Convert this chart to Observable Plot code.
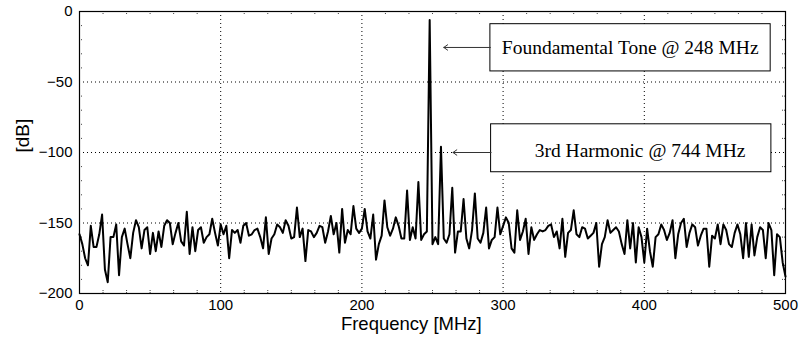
<!DOCTYPE html>
<html>
<head>
<meta charset="utf-8">
<script src="https://cdn.jsdelivr.net/npm/d3@7"></script>
<script src="https://cdn.jsdelivr.net/npm/@observablehq/plot@0.6"></script>
<style>
  html, body { margin: 0; padding: 0; background: #fff; }
  #chart { width: 799px; height: 343px; }
</style>
</head>
<body>
<div id="chart"></div>
<script>
// Frequency step between spectrum bins (MHz)
const stepMHz = 2;

// Spectrum magnitude in dB, one value per bin (0 .. 500 MHz)
const dB = [
  -158, -165, -175, -180, -152, -167, -167, -158, -144, -183,
  -192, -160, -160, -151, -187, -160, -154, -165, -175, -157,
  -148, -153, -168, -155, -153, -172, -157, -170, -156, -167,
  -152, -148, -150, -165, -157, -150, -163, -166, -142, -172,
  -153, -170, -155,
  -153, -164, -160, -158, -147, -157, -166, -151, -158, -152,
  -175, -155, -157, -155, -164, -152, -150, -159, -158, -155,
  -154, -160, -168, -146, -172, -161, -158, -151, -153, -157,
  -148, -152, -161, -160, -139, -160, -154, -177, -155, -156,
  -160,
  -157, -152, -153, -164, -156, -145, -158, -150, -171, -140,
  -164, -155, -158, -138, -154, -157, -154, -140, -156, -161,
  -144, -176, -165, -159, -134, -153, -159, -154, -146, -152,
  -161, -161, -127, -162, -153, -161, -121, -162, -158, -156,
  -6,
  -165, -160, -165, -96, -161, -164, -158, -125, -171, -156,
  -156, -133, -161, -168, -155, -129, -161, -164, -157, -139,
  -168, -162, -160, -139, -158, -152, -146, -150, -168, -171,
  -141, -162, -156, -147, -172, -153, -162, -158, -155, -156,
  -155, -152,
  -151, -160, -156, -168, -147, -174, -157, -155, -141, -158,
  -160, -153, -154, -161, -159, -157, -150, -181, -165, -160,
  -148, -157, -155, -153, -156, -165, -172, -148, -168, -150,
  -178, -153, -160, -178, -154, -170, -181, -160, -158, -151,
  -155,
  -162, -157, -148, -175, -158, -150, -147, -167, -157, -151,
  -153, -166, -159, -154, -154, -181, -159, -161, -151, -165,
  -151, -155, -165, -167, -157, -151, -158, -175, -150, -174,
  -151, -173, -160, -153, -155, -175, -150, -155, -187, -158,
  -160, -178, -188
];

// Axis ticks
const xTicks = [0, 100, 200, 300, 400, 500];
const yTicks = [0, -50, -100, -150, -200];
const xGrid = [100, 200, 300, 400];
const yGrid = [-50, -100, -150];

// Axis titles
const xTitle = "Frequency [MHz]";
const yTitle = "[dB]";

// Annotations
const annoLabels = ["Foundamental Tone @ 248 MHz", "3rd Harmonic @ 744 MHz"];
const annoBoxLeft = [291, 291.5];
const annoBoxRight = [489.5, 490];
const annoBoxTop = [-9, -80];
const annoBoxBottom = [-42.5, -114];
const annoTextX = [390, 397];
const annoTextY = [-25.5, -99];
const annoArrowY = [-25.5, -100];
const annoArrowTip = [258, 264.5];

// Build tables
const spectrum = dB.map((v, i) => ({f: i * stepMHz, db: v}));
const annos = annoLabels.map((t, i) => ({
  label: t,
  x1: annoBoxLeft[i], x2: annoBoxRight[i],
  y1: annoBoxTop[i], y2: annoBoxBottom[i],
  tx: annoTextX[i], ty: annoTextY[i],
  ay: annoArrowY[i], tip: annoArrowTip[i]
}));

// minor tick positions (6 per 100 MHz, 5 per 50 dB)
const minorX = d3.range(1, 30).map(k => k * 100 / 6).filter(v => Math.abs(v / 100 - Math.round(v / 100)) > 1e-6);
const minorY = d3.range(-19, 0).map(k => k * 10).filter(v => v % 50 !== 0);

const dotted = {stroke: "black", strokeOpacity: 1, strokeDasharray: "1,3", strokeWidth: 1};
const minorStyle = {stroke: "#444", strokeWidth: 1, strokeDasharray: "1,1"};

const chart = Plot.plot({
  width: 799,
  height: 343,
  marginLeft: 79,
  marginRight: 14,
  marginTop: 11,
  marginBottom: 50,
  style: {fontFamily: "'Liberation Sans', Arial, sans-serif", fontSize: "15px", background: "#fff", color: "#000"},
  x: {domain: [0, 500]},
  y: {domain: [-200, 0]},
  marks: [
    Plot.gridX(xGrid, dotted),
    Plot.gridY(yGrid, dotted),
    // minor ticks inside the frame on all sides
    Plot.ruleX(minorX, {x: d => d, y1: -200, y2: -197.2, ...minorStyle}),
    Plot.ruleX(minorX, {x: d => d, y1: 0, y2: -2.8, ...minorStyle}),
    Plot.ruleY(minorY, {y: d => d, x1: 0, x2: 2.8, ...minorStyle}),
    Plot.ruleY(minorY, {y: d => d, x1: 500, x2: 497.2, ...minorStyle}),
    Plot.line(spectrum, {x: "f", y: "db", stroke: "black", strokeWidth: 2}),
    Plot.rect(annos, {x1: "x1", x2: "x2", y1: "y1", y2: "y2", fill: "white", stroke: "black", strokeWidth: 1}),
    Plot.arrow(annos, {x1: "x1", y1: "ay", x2: "tip", y2: "ay", stroke: "#333", strokeWidth: 1, headLength: 7, headAngle: 70}),
    Plot.text(annos, {x: "tx", y: "ty", text: "label", fontFamily: "'Liberation Serif', 'Times New Roman', serif", fontSize: 19.5, fill: "black"}),
    Plot.axisX(xTicks, {tickSize: 0, tickPadding: 6, label: null, fontSize: 15}),
    Plot.axisY(yTicks, {tickSize: 0, tickPadding: 7, label: null, fontSize: 15}),
    Plot.text([xTitle], {x: 235, frameAnchor: "bottom", dy: 36, fontSize: 18.5, fill: "black"}),
    Plot.text([yTitle], {frameAnchor: "left", dx: -57, rotate: -90, fontSize: 19, fill: "black"}),
    Plot.frame({stroke: "black", strokeWidth: 1.2})
  ]
});
document.getElementById("chart").appendChild(chart);
</script>
</body>
</html>
